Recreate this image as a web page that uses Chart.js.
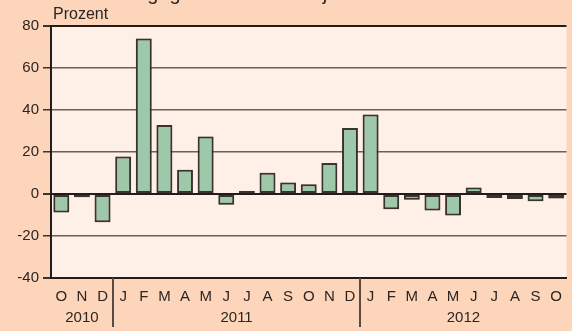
<!DOCTYPE html>
<html>
<head>
<meta charset="utf-8">
<script src="https://cdn.jsdelivr.net/npm/chart.js@4/dist/chart.umd.min.js"></script>
<style>
  html, body { margin: 0; padding: 0; background: #fdd5ba; }
  canvas { display: block; }
</style>
</head>
<body>
<canvas id="chart" width="572" height="331"></canvas>
<script>
// Veränderung gegenüber dem Vorjahresmonat, Okt 2010 - Okt 2012

const months = ['O','N','D','J','F','M','A','M','J','J','A','S','O','N','D','J','F','M','A','M','J','J','A','S','O'];
const years = ['2010', '2011', '2012'];
const monthsPerYear = [3, 12, 10];
const changes = [-8.8, -1.5, -13.5, 17.8, 74.1, 32.9, 11.6, 27.4, -5.1, 1.4, 10.1, 5.5, 4.6, 14.8, 31.4, 37.8, -7.3, -2.7, -7.8, -10.2, 3.1, -1.9, -2.4, -3.5, -2.1];
const yTicks = [-40, -20, 0, 20, 40, 60, 80];

const textColor = '#2b2523';
const fontFamily = '"Liberation Sans", Arial, sans-serif';

// backgrounds, title, unit label, year row and year separators
const decor = {
  id: 'decor',
  beforeDraw(chart) {
    const ctx = chart.ctx;
    const a = chart.chartArea;
    ctx.save();
    ctx.fillStyle = '#fdd5ba';
    ctx.fillRect(0, 0, chart.width, chart.height);
    ctx.fillStyle = '#fef0e6';
    ctx.fillRect(a.left, a.top, a.right - a.left, a.bottom - a.top);
    ctx.restore();
  },
  // soft edge around the bars
  beforeDatasetsDraw(chart) {
    const ctx = chart.ctx;
    ctx.save();
    ctx.shadowColor = 'rgba(60, 45, 40, 0.35)';
    ctx.shadowBlur = 2;
  },
  afterDatasetsDraw(chart) {
    chart.ctx.restore();
  },
  afterDraw(chart) {
    const ctx = chart.ctx;
    const x = chart.scales.x;
    const a = chart.chartArea;
    ctx.save();
    ctx.fillStyle = textColor;
    ctx.textBaseline = 'alphabetic';

    ctx.font = '20px ' + fontFamily;
    ctx.textAlign = 'center';
    ctx.fillText('gegenüber dem Vorjahresmonat', chart.width / 2 + 4, -0.5);

    ctx.font = '16px ' + fontFamily;
    ctx.textAlign = 'left';
    ctx.fillText('Prozent', a.left + 2, 19);

    ctx.font = '15px ' + fontFamily;
    ctx.textAlign = 'center';
    ctx.textBaseline = 'middle';
    let start = 0;
    years.forEach((y, i) => {
      const end = start + monthsPerYear[i] - 1;
      const cx = (x.getPixelForValue(start) + x.getPixelForValue(end)) / 2;
      ctx.fillText(y, cx, 318);
      if (start > 0) {
        const sx = Math.round((x.getPixelForValue(start - 1) + x.getPixelForValue(start)) / 2);
        ctx.strokeStyle = '#5a4a42';
        ctx.lineWidth = 2;
        ctx.beginPath();
        ctx.moveTo(sx, a.bottom);
        ctx.lineTo(sx, 327);
        ctx.stroke();
      }
      start = end + 1;
    });
    ctx.restore();
  }
};

new Chart(document.getElementById('chart'), {
  type: 'bar',
  data: {
    labels: months,
    datasets: [{
      data: changes,
      backgroundColor: '#9ec8aa',
      borderColor: '#3a3330',
      borderWidth: 2,
      borderSkipped: false,
      categoryPercentage: 1,
      barPercentage: 0.77
    }]
  },
  options: {
    responsive: false,
    animation: false,
    devicePixelRatio: 1,
    layout: { padding: { top: 26, right: 0, left: 0, bottom: 0 } },
    plugins: {
      legend: { display: false },
      tooltip: { enabled: false }
    },
    scales: {
      x: {
        afterFit(scale) { scale.height = 53; },
        grid: { display: false, drawTicks: false },
        border: { display: true, color: '#221c1a', width: 2 },
        ticks: {
          color: textColor,
          font: { family: fontFamily, size: 15 },
          padding: 10,
          maxRotation: 0,
          autoSkip: false
        }
      },
      y: {
        min: -40,
        max: 80,
        afterFit(scale) { scale.width = 51; },
        afterBuildTicks(scale) { scale.ticks = yTicks.map(v => ({ value: v })); },
        border: { display: true, color: '#221c1a', width: 2 },
        grid: {
          color: ctx => (ctx.tick && [80, 0, -40].includes(ctx.tick.value)) ? '#221c1a' : '#6b5f5a',
          lineWidth: ctx => (ctx.tick && [80, 0, -40].includes(ctx.tick.value)) ? 2 : 1.5,
          tickColor: '#3a3330',
          tickLength: 8
        },
        ticks: {
          color: textColor,
          font: { family: fontFamily, size: 15 },
          padding: 4
        }
      }
    }
  },
  plugins: [decor]
});
</script>
</body>
</html>
